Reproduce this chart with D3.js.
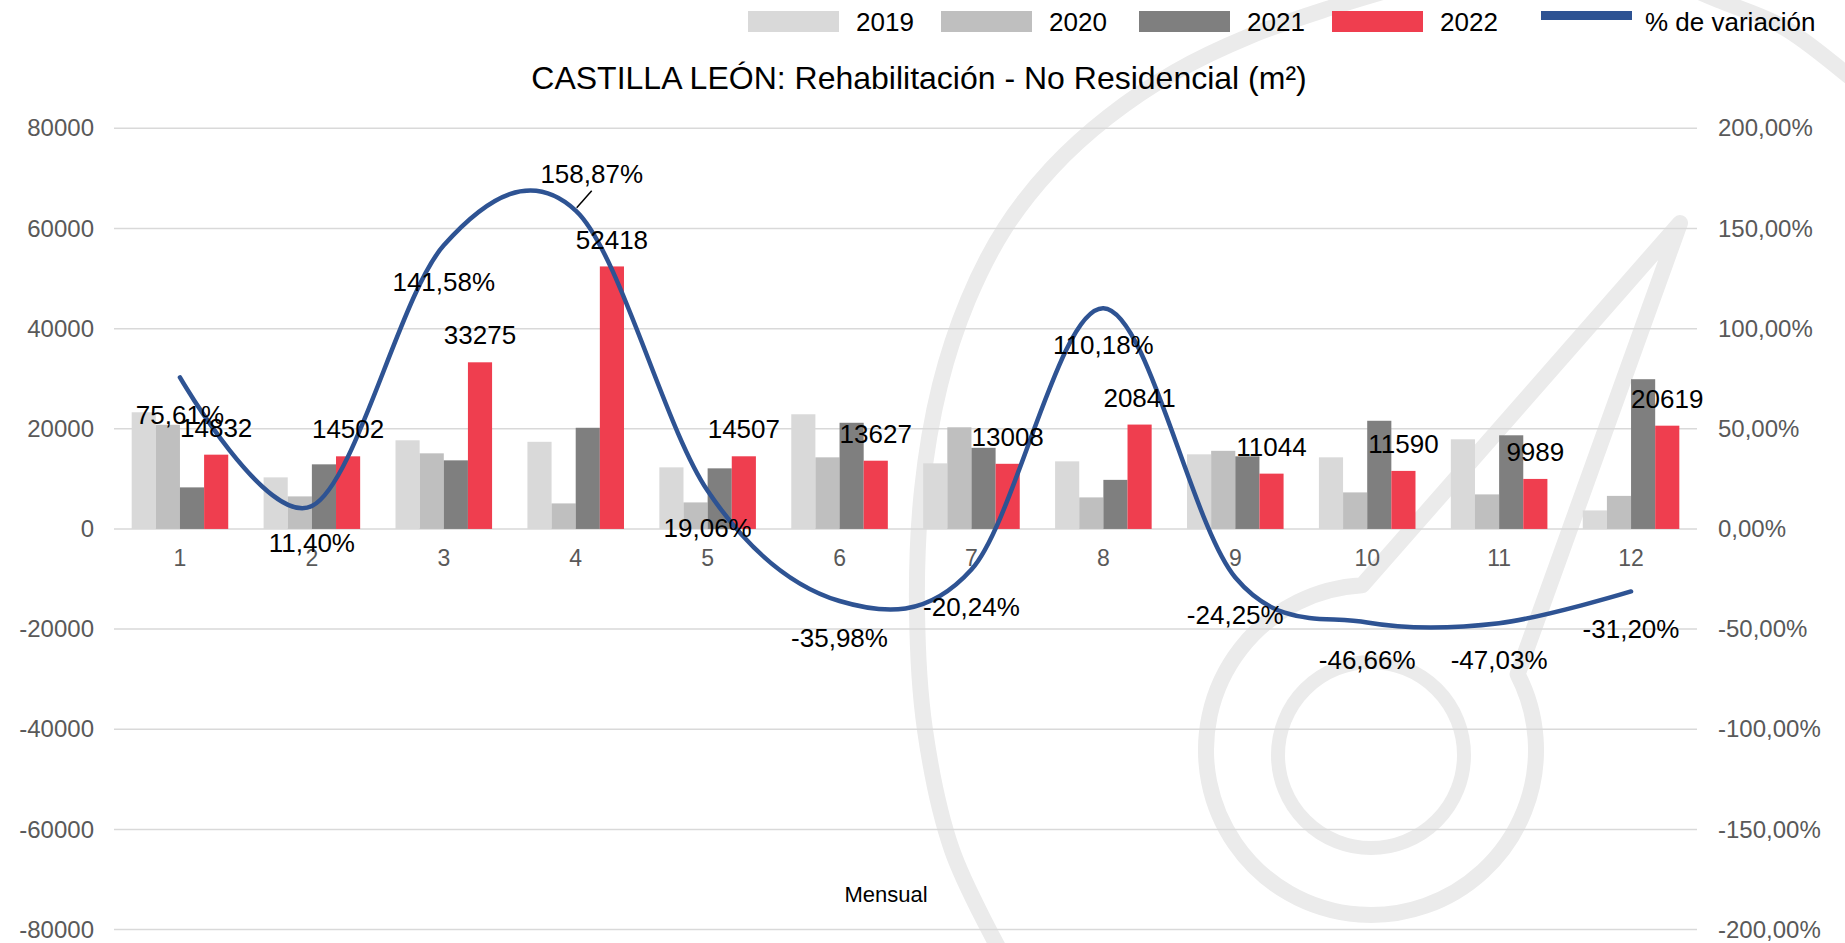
<!DOCTYPE html>
<html><head><meta charset="utf-8">
<script src="https://cdn.jsdelivr.net/npm/d3@7"></script>
<style>
body{margin:0;background:#fff}
svg{display:block}
text{font-family:"Liberation Sans",Arial,sans-serif}
</style>
</head><body>
<svg id="c" width="1845" height="943"></svg>
<script>
// ---------- DATA ----------
const months = ["1","2","3","4","5","6","7","8","9","10","11","12"];
const seriesNames = ["2019","2020","2021","2022"];
const s2019 = [23300,10300,17700,17400,12300,22900,13100,13500,14900,14300,17900,3700];
const s2020 = [20800,6500,15100,5100,5300,14300,20300,6300,15600,7300,6900,6600];
const s2021 = [8300,12900,13700,20200,12100,21200,16200,9800,14500,21600,18700,29900];
const s2022 = [14832,14502,33275,52418,14507,13627,13008,20841,11044,11590,9989,20619];
const variation = [75.61,11.40,141.58,158.87,19.06,-35.98,-20.24,110.18,-24.25,-46.66,-47.03,-31.20];
const leftTicks = [-80000,-60000,-40000,-20000,0,20000,40000,60000,80000];
const rightTicks = [-200,-150,-100,-50,0,50,100,150,200];
const lineName = "% de variación";
const title = "CASTILLA LEÓN: Rehabilitación - No Residencial (m²)";
const xTitle = "Mensual";

// ---------- STYLE ----------
const seriesColors = ["#D9D9D9","#BFBFBF","#7F7F7F","#EF3E4F"];
const lineColor = "#2E5393";
const gridColor = "#D9D9D9";
const axisText = "#595959";
const wmColor = "#EBEBEB";

const svg = d3.select("#c");
const plot = {left:114, right:1697, top:128.3, bottom:929.6};

const series = [s2019, s2020, s2021, s2022];
const fmtPct = v => v.toFixed(2).replace(".", ",") + "%";

// ---------- WATERMARK (decorative logo) ----------
const wm = svg.append("g").attr("fill","none").attr("stroke",wmColor).attr("stroke-width",16).attr("stroke-linecap","round");
const outerPts = [[1005,960],[952,850],[925,730],[917,610],[922,490],[940,385],[968,300],[1005,228],[1052,168],[1108,117],[1175,72],[1250,36],[1330,8],[1410,-16]];
wm.append("path").attr("d", d3.line().curve(d3.curveCatmullRom)(outerPts));
wm.append("path").attr("d", d3.line().curve(d3.curveCatmullRom)([[1690,-12],[1718,0],[1783,27],[1845,73],[1865,90]]));
const cx = 1371, cy = 750, r = 165;
const a1 = Math.atan2(582-cy, 1362-cx), a2 = Math.atan2(672-cy, 1522-cx);
const tip = [1680,223];
const p1 = [cx + r*Math.cos(a1), cy + r*Math.sin(a1)];
const p2 = [cx + r*Math.cos(a2), cy + r*Math.sin(a2)];
wm.append("path").attr("stroke-linejoin","round")
  .attr("d", `M${tip[0]},${tip[1]} L${p1[0]},${p1[1]} A${r},${r} 0 1 0 ${p2[0]},${p2[1]} Z`);
wm.append("circle").attr("cx",cx).attr("cy",755).attr("r",93).attr("stroke-width",14);

// ---------- SCALES ----------
const x = d3.scaleBand().domain(months).range([plot.left, plot.right]).paddingInner(0.268).paddingOuter(0.134);
const xs = d3.scaleBand().domain(seriesNames).range([0, x.bandwidth()]);
const yL = d3.scaleLinear().domain([-80000, 80000]).range([plot.bottom, plot.top]);
const yR = d3.scaleLinear().domain([-200, 200]).range([plot.bottom, plot.top]);

// ---------- GRID ----------
svg.append("g").selectAll("line").data(leftTicks).join("line")
  .attr("x1", plot.left).attr("x2", plot.right)
  .attr("y1", d => yL(d)).attr("y2", d => yL(d))
  .attr("stroke", gridColor).attr("stroke-width", 1.5);

const fontFam = '"Liberation Sans",Arial,sans-serif';
const leftAxis = d3.axisLeft(yL).tickValues(leftTicks).tickSize(0).tickPadding(0).tickFormat(d => String(d));
const gL = svg.append("g").attr("transform", `translate(94,0)`).call(leftAxis);
gL.select(".domain").remove();
gL.selectAll("text").attr("fill", axisText).attr("font-size", 24).attr("font-family", fontFam);

const rightAxis = d3.axisRight(yR).tickValues(rightTicks).tickSize(0).tickPadding(0).tickFormat(fmtPct);
const gR = svg.append("g").attr("transform", `translate(1718,0)`).call(rightAxis);
gR.select(".domain").remove();
gR.selectAll("text").attr("fill", axisText).attr("font-size", 24).attr("font-family", fontFam);

const bottomAxis = d3.axisBottom(x).tickSize(0).tickPadding(0);
const gB = svg.append("g").attr("transform", `translate(0,${yL(0)+21})`).call(bottomAxis);
gB.select(".domain").remove();
gB.selectAll("text").attr("fill", axisText).attr("font-size", 23).attr("font-family", fontFam);

// ---------- BARS ----------
const gBars = svg.append("g");
seriesNames.forEach((name, si) => {
  gBars.append("g").selectAll("rect").data(series[si]).join("rect")
    .attr("x", (d, i) => x(months[i]) + xs(name))
    .attr("width", xs.bandwidth())
    .attr("y", d => Math.min(yL(d), yL(0)))
    .attr("height", d => Math.abs(yL(d) - yL(0)))
    .attr("fill", seriesColors[si]);
});

// ---------- LINE ----------
const line = d3.line()
  .x((d, i) => x(months[i]) + x.bandwidth()/2)
  .y(d => yR(d))
  .curve(d3.curveCardinal.tension(0));
svg.append("path").datum(variation).attr("d", line)
  .attr("fill","none").attr("stroke", lineColor).attr("stroke-width", 4.5).attr("stroke-linecap","round");

// ---------- DATA LABELS ----------
const gLab = svg.append("g").attr("font-size", 26).attr("fill", "#000").attr("text-anchor","middle");
gLab.selectAll("text.v").data(s2022).join("text").attr("class","v")
  .attr("x", (d, i) => x(months[i]) + xs("2022") + xs.bandwidth()/2)
  .attr("y", d => yL(d) - 27)
  .attr("dy", "0.35em")
  .text(d => d);

const special = 3; // label moved above with a leader line
gLab.selectAll("text.p").data(variation).join("text").attr("class","p")
  .attr("x", (d, i) => x(months[i]) + x.bandwidth()/2 + (i === special ? 16 : 0))
  .attr("y", (d, i) => yR(d) + (i === special ? -37 : 37))
  .attr("dy", "0.35em")
  .text(fmtPct);
{
  const px = x(months[special]) + x.bandwidth()/2, py = yR(variation[special]);
  svg.append("line").attr("x1", px + 1).attr("y1", py - 3).attr("x2", px + 16).attr("y2", py - 20)
    .attr("stroke", "#000").attr("stroke-width", 1.5);
}

// ---------- TITLES ----------
svg.append("text").attr("x", 919).attr("y", 78).attr("dy","0.35em").attr("text-anchor","middle")
  .attr("font-size", 32).attr("fill", "#000").text(title);
svg.append("text").attr("x", 886).attr("y", 894).attr("dy","0.35em").attr("text-anchor","middle")
  .attr("font-size", 22).attr("font-family", 'Lato, "Open Sans", sans-serif').attr("fill", "#000").text(xTitle);

// ---------- LEGEND ----------
const legX = [748, 941, 1139, 1332];
const lg = svg.append("g");
seriesNames.forEach((n, i) => {
  lg.append("rect").attr("x", legX[i]).attr("y", 11).attr("width", 91).attr("height", 21).attr("fill", seriesColors[i]);
  lg.append("text").attr("x", legX[i] + 108).attr("y", 31).attr("font-size", 26).attr("fill", "#000").text(n);
});
lg.append("rect").attr("x", 1541).attr("y", 11).attr("width", 91).attr("height", 9).attr("fill", lineColor);
lg.append("text").attr("x", 1645).attr("y", 31).attr("font-size", 26).attr("fill", "#000").text(lineName);
</script>
</body></html>
